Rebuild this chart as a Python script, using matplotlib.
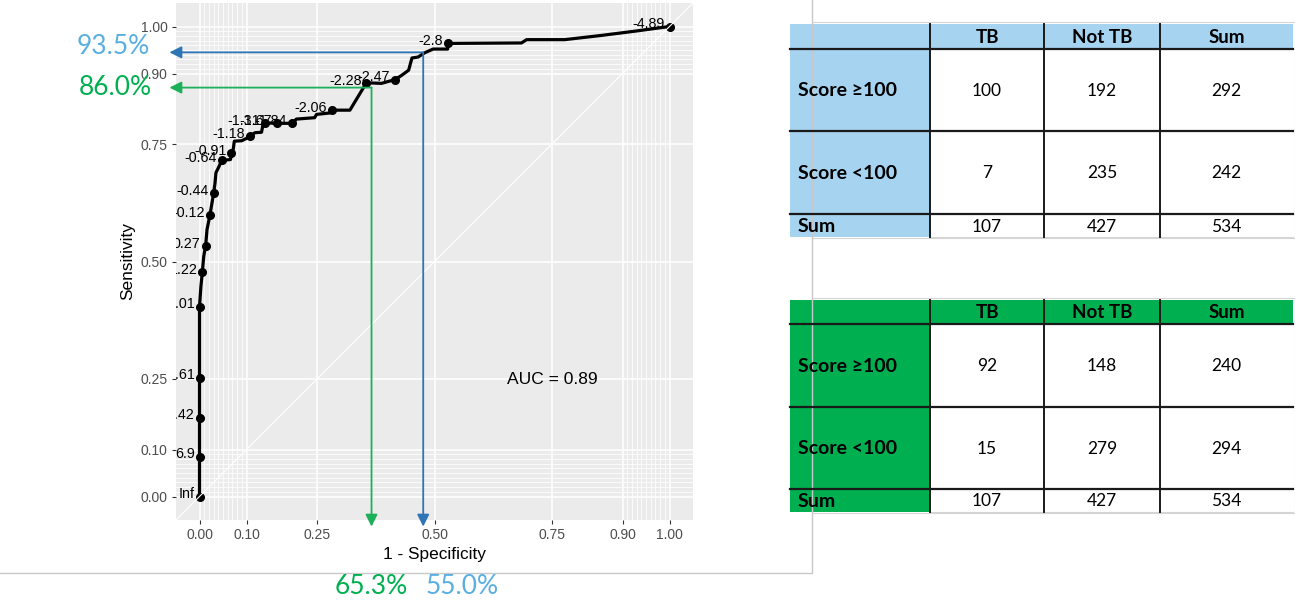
import numpy as np
import matplotlib.pyplot as plt
from matplotlib.patches import Rectangle

plt.rcParams['font.family'] = ['Liberation Sans', 'DejaVu Sans']

# ROC curve (1 - specificity, sensitivity)
fpr = [0, 0, 0.003, 0.006, 0.009, 0.013, 0.016, 0.022, 0.026, 0.030, 0.033, 0.035,
       0.040, 0.045, 0.048, 0.066, 0.068, 0.072, 0.074, 0.090, 0.100, 0.107, 0.118,
       0.132, 0.135, 0.139, 0.164, 0.197, 0.206, 0.245, 0.249, 0.277, 0.281, 0.320,
       0.355, 0.362, 0.387, 0.416, 0.430, 0.445, 0.452, 0.465, 0.479, 0.497, 0.528,
       0.528, 0.685, 0.696, 0.777, 0.855, 0.926, 1.0]
sens = [0, 0.404, 0.447, 0.477, 0.511, 0.533, 0.568, 0.598, 0.621, 0.645, 0.667, 0.689,
        0.699, 0.710, 0.715, 0.717, 0.730, 0.740, 0.756, 0.757, 0.762, 0.767, 0.774,
        0.775, 0.791, 0.795, 0.794, 0.794, 0.803, 0.806, 0.813, 0.816, 0.822, 0.822,
        0.880, 0.880, 0.879, 0.887, 0.896, 0.907, 0.933, 0.935, 0.944, 0.952, 0.952,
        0.964, 0.965, 0.972, 0.972, 0.981, 0.990, 1.0]

# labelled thresholds
thr_fpr = [0, 0, 0, 0, 0, 0.006, 0.013, 0.022, 0.030, 0.048, 0.068, 0.107, 0.139,
           0.164, 0.197, 0.281, 0.355, 0.416, 0.528, 1.0]
thr_sens = [0, 0.085, 0.168, 0.253, 0.404, 0.477, 0.533, 0.598, 0.645, 0.715, 0.730,
            0.767, 0.795, 0.794, 0.794, 0.822, 0.880, 0.887, 0.964, 1.0]
thr_labels = ["Inf", "6.9", "3.42", "2.61", "2.01", "1.22", "0.27", "-0.12", "-0.44",
              "-0.64", "-0.91", "-1.18", "-1.31", "-1.67", "-1.84", "-2.06", "-2.28",
              "-2.47", "-2.8", "-4.89"]

auc = 0.89
ticks = [0, 0.1, 0.25, 0.5, 0.75, 0.9, 1.0]
minor = [i / 100 for i in range(1, 10)] + [0.9 + i / 100 for i in range(1, 10)]

# cut-off arrows (drawn position, label)
cut_fpr = [0.476, 0.366]
cut_sens = [0.945, 0.870]
cut_sens_txt = ["93.5%", "86.0%"]
cut_spec_txt = ["55.0%", "65.3%"]
line_cols = ["#2E75B6", "#1DB05A"]
text_cols = ["#5AAFE2", "#00B050"]

# 2x2 tables
col_names = ["TB", "Not TB", "Sum"]
row_names = ["Score \u2265100", "Score <100", "Sum"]
blue_counts = [[100, 192, 292], [7, 235, 242], [107, 427, 534]]
green_counts = [[92, 148, 240], [15, 279, 294], [107, 427, 534]]

W, H = 1295, 600
fig = plt.figure(figsize=(W / 100, H / 100), dpi=100)

# frame + tables layer in pixel coordinates
bg = fig.add_axes([0, 0, 1, 1], zorder=0)
bg.set_xlim(0, W)
bg.set_ylim(H, 0)
bg.axis('off')
bg.plot([0, 812, 812], [573, 573, 0], color='#c8c8c8', lw=1)

col_edges = [790, 930, 1044, 1160, 1293]
tfont = ['Lato', 'DejaVu Sans']


def draw_table(top_rows, counts, fill):
    y0, y1 = top_rows[0], top_rows[-1]
    bg.add_patch(Rectangle((812, y0 - 2), W - 812, y1 - y0 + 3, fc='white', ec='#d4d4d4', lw=0.8))
    bg.add_patch(Rectangle((col_edges[0], y0), col_edges[-1] - col_edges[0], top_rows[1] - y0,
                           fc=fill, ec='none'))
    bg.add_patch(Rectangle((col_edges[0], y0), col_edges[1] - col_edges[0], y1 - y0,
                           fc=fill, ec='none'))
    for c in range(1, 4):
        for r in range(1, 4):
            bg.add_patch(Rectangle((col_edges[c], top_rows[r]), col_edges[c + 1] - col_edges[c],
                                   top_rows[r + 1] - top_rows[r], fc='white', ec='none'))
    for yy in top_rows[1:4]:
        bg.plot([col_edges[0], col_edges[-1]], [yy, yy], color='#1a1a1a', lw=1.6)
    bg.plot([col_edges[1], col_edges[-1]], [y1, y1], color='#d4d4d4', lw=0.8)
    for xx in col_edges[1:4]:
        bg.plot([xx, xx], [y0, y1], color='#1a1a1a', lw=1.4)
    for c, name in enumerate(col_names):
        xc = (col_edges[c + 1] + col_edges[c + 2]) / 2
        bg.text(xc, (top_rows[0] + top_rows[1]) / 2 + 1, name, ha='center', va='center',
                fontsize=13.5, fontweight='bold', family=tfont)
    for r, name in enumerate(row_names):
        yc = (top_rows[r + 1] + top_rows[r + 2]) / 2 + 1
        bg.text(col_edges[0] + 8, yc, name, ha='left', va='center', fontsize=14,
                fontweight='bold', family=tfont)
        for c in range(3):
            xc = (col_edges[c + 1] + col_edges[c + 2]) / 2
            bg.text(xc, yc, str(counts[r][c]), ha='center', va='center', fontsize=12.5,
                    family=tfont)


draw_table([24, 49, 131, 214, 237], blue_counts, '#A6D3F0')
draw_table([300, 324, 406.5, 489, 511.5], green_counts, '#00B050')

# ROC panel
ax = fig.add_axes([176 / W, (H - 520) / H, 517 / W, 517 / H], zorder=2)
ax.set_facecolor('#EBEBEB')
for s in ax.spines.values():
    s.set_visible(False)
ax.set_xlim(-0.05, 1.05)
ax.set_ylim(-0.05, 1.05)
ax.set_xticks(ticks)
ax.set_yticks(ticks)
ax.set_xticklabels([f"{t:.2f}" for t in ticks])
ax.set_yticklabels([f"{t:.2f}" for t in ticks])
ax.set_xticks(minor, minor=True)
ax.set_yticks(minor, minor=True)
ax.tick_params(which='major', length=3, width=0.8, color='#333333', labelcolor='#4D4D4D',
               labelsize=10, pad=3)
ax.tick_params(which='minor', length=0)
ax.grid(which='major', color='white', lw=1.1)
ax.grid(which='minor', color='white', lw=0.55)
ax.set_axisbelow(True)
ax.set_xlabel("1 - Specificity", fontsize=12.4, labelpad=3)
ax.set_ylabel("Sensitivity", fontsize=12.4, labelpad=4)

ax.plot(fpr, sens, color='black', lw=2.3, zorder=3, solid_joinstyle='round')
ax.plot(thr_fpr, thr_sens, 'o', color='black', ms=5.5, zorder=3)
ax.plot([-0.05, 1.05], [-0.05, 1.05], color='white', lw=0.8, zorder=4)
for xv, yv, lab in zip(thr_fpr, thr_sens, thr_labels):
    ax.annotate(lab, (xv, yv), xytext=(-3.5, -1.2), textcoords='offset points', ha='right',
                va='baseline', fontsize=10.3, clip_on=True, zorder=5)
ax.text(0.75, 0.25, f"AUC = {auc}", ha='center', va='center', fontsize=12.5)

tip_x, tip_y = -0.064, -0.064
sens_off = [(-20, 6), (-18, 0)]
spec_off = [(2, -60), (0, -60)]
spec_ha = ['left', 'center']
for i in range(2):
    arr = dict(arrowstyle='-|>', color=line_cols[i], lw=1.3, mutation_scale=18,
               shrinkA=0, shrinkB=0)
    ax.annotate('', xy=(tip_x, cut_sens[i]), xytext=(cut_fpr[i], cut_sens[i]),
                arrowprops=arr, annotation_clip=False, zorder=6)
    ax.annotate('', xy=(cut_fpr[i], tip_y), xytext=(cut_fpr[i], cut_sens[i]),
                arrowprops=arr, annotation_clip=False, zorder=6)
    ax.annotate(cut_sens_txt[i], (tip_x, cut_sens[i]), xytext=sens_off[i],
                textcoords='offset pixels', ha='right', va='center', fontsize=19,
                color=text_cols[i], family=tfont, annotation_clip=False)
    ax.annotate(cut_spec_txt[i], (cut_fpr[i], tip_y), xytext=spec_off[i],
                textcoords='offset pixels', ha=spec_ha[i], va='center', fontsize=19,
                color=text_cols[i], family=tfont, annotation_clip=False)

fig.savefig('out.png', dpi=100)
